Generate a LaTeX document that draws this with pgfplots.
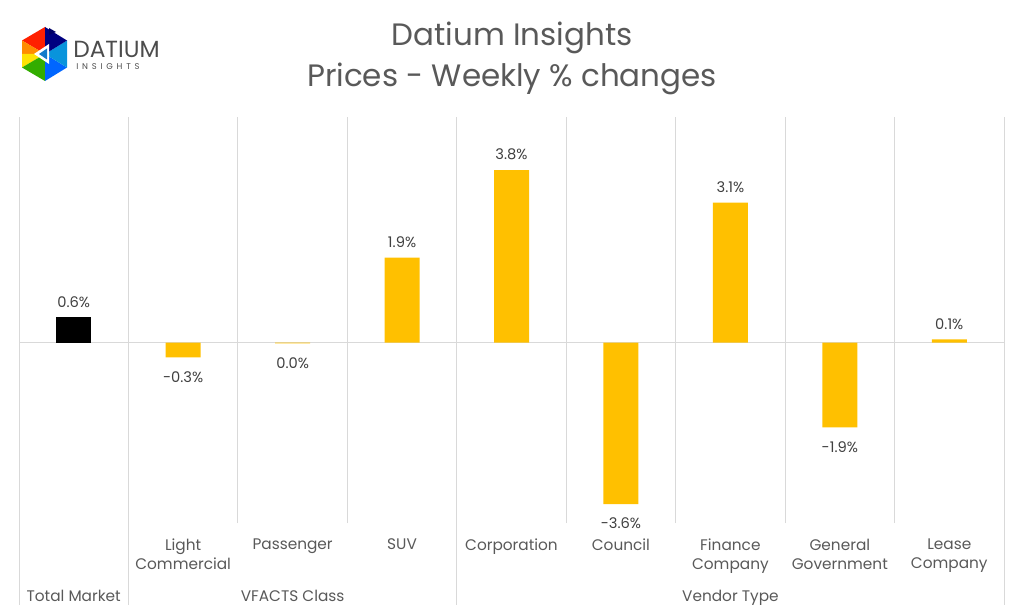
\documentclass[border=0pt]{standalone}
\usepackage{fontspec}
\setmainfont{Poppins}
\usepackage{pgfplots}
\pgfplotsset{compat=1.18}
\definecolor{bary}{HTML}{FFC000}
\definecolor{sep}{HTML}{D9D9D9}
\definecolor{lab}{HTML}{595959}
\definecolor{dlab}{HTML}{404040}
\begin{document}
\begin{tikzpicture}
\path[use as bounding box] (0,0) rectangle (768pt,461.25pt);
\begin{scope}[x=0.75pt,y=-0.75pt,shift={(0pt,461.25pt)}]
% logo
\coordinate (c) at (45,54);
\fill[red!75!orange] (c) -- (45,27) -- (22,40.5) -- cycle;
\fill[orange!90!yellow] (c) -- (22,40.5) -- (22,54) -- cycle;
\fill[yellow!85!orange] (c) -- (22,54) -- (22,67.5) -- cycle;
\fill[green!60!black!80!yellow] (c) -- (22,67.5) -- (45,81) -- cycle;
\fill[blue!60!cyan] (c) -- (45,81) -- (67,67.5) -- cycle;
\fill[cyan!80!blue] (c) -- (67,67.5) -- (67,40.5) -- cycle;
\fill[blue!50!black] (c) -- (67,40.5) -- (45,27) -- cycle;
\fill[white] (34,54) -- (49,44) -- (49,64) -- cycle;
\fill[cyan!60!blue] (39,54) -- (47,48.5) -- (47,59.5) -- cycle;
\fill[blue!40!black] (49,28) -- (56,32) -- (49,35) -- cycle;
\node[anchor=base west, inner sep=0, text=black!70, font=\fontsize{17.5}{17.5}\selectfont] at (73,58) {DATIUM};
\node[anchor=base west, inner sep=0, text=black!70, font=\fontsize{6.3}{6.3}\selectfont\addfontfeature{LetterSpace=45}] at (76,70) {INSIGHTS};
% title
\node[anchor=base, inner sep=0, text=lab, font=\fontsize{23.2}{23.2}\selectfont] at (512,46) {Datium Insights};
\node[anchor=base, inner sep=0, text=lab, font=\fontsize{23.2}{23.2}\selectfont] at (512,87) {Prices - Weekly \% changes};
\end{scope}
\begin{axis}[
  at={(14.25pt,69pt)}, anchor=south west,
  width=738.75pt, height=304.5pt, scale only axis,
  xmin=-0.5, xmax=8.5, ymin=-4, ymax=5,
  clip=false,
  axis line style={draw=none},
  tick style={draw=none},
  ytick=\empty,
  xtick={0,...,8},
  xticklabels={,Light\\Commercial,Passenger,SUV,Corporation,Council,Finance\\Company,General\\Government,Lease\\Company},
  xticklabel style={align=center, text=lab, font=\fontsize{11.5}{14.5}\selectfont, anchor=north, yshift=-4pt},
  minor xtick={-0.5,0.5,...,8.5},
  minor grid style={sep, line width=0.75pt},
  xminorgrids=true,
  extra y ticks={0},
  extra y tick labels={},
  extra y tick style={grid=major, major grid style={sep, line width=0.75pt}},
  ybar, bar width=26.25pt, bar shift=0pt,
  nodes near coords={\pgfplotspointmeta},
  point meta=explicit symbolic,
  every node near coord/.append style={text=dlab, font=\fontsize{11}{11}\selectfont},
  pos/.style={every node near coord/.append style={anchor=south, yshift=4pt}},
  neg/.style={every node near coord/.append style={anchor=north, yshift=-7pt}},
]
\addplot[fill=black, draw=none, pos] table[meta=lab] {
x y lab
0 0.56 0.6\%
};
\addplot[fill=bary, draw=none, pos] table[meta=lab] {
x y lab
3 1.88 1.9\%
4 3.82 3.8\%
6 3.10 3.1\%
8 0.07 0.1\%
};
\addplot[fill=bary, draw=none, neg] table[meta=lab] {
x y lab
1 -0.33 -0.3\%
2 -0.02 0.0\%
5 -3.58 -3.6\%
7 -1.88 -1.9\%
};
\pgfplotsinvokeforeach{-0.5,0.5,3.5,8.5}{
  \draw[sep, line width=0.75pt] (axis cs:#1,-4) -- ([yshift=-61.5pt]axis cs:#1,-4);
}
\node[text=lab, font=\fontsize{11.5}{14}\selectfont, anchor=base] at ([yshift=-58.5pt]axis cs:0,-4) {Total Market};
\node[text=lab, font=\fontsize{11.5}{14}\selectfont, anchor=base] at ([yshift=-58.5pt]axis cs:2,-4) {VFACTS Class};
\node[text=lab, font=\fontsize{11.5}{14}\selectfont, anchor=base] at ([yshift=-58.5pt]axis cs:6,-4) {Vendor Type};
\end{axis}
\end{tikzpicture}
\end{document}
